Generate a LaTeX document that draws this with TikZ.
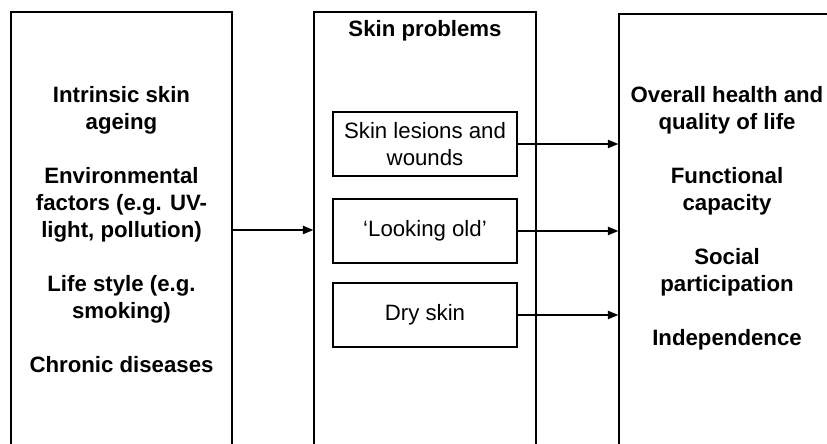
\documentclass[tikz,border=0pt]{standalone}
\usepackage{fontspec}
\setmainfont{Liberation Sans}
\usetikzlibrary{arrows.meta}

\begin{document}
\begin{tikzpicture}[x=0.025cm,y=-0.025cm,
  frame/.style={draw,line width=0.95pt,inner sep=0pt},
  pbox/.style={draw,line width=1.1pt,inner sep=0pt,minimum width=4.6cm,minimum height=1.6cm,
    align=center,font=\fontsize{15.8}{18.9}\selectfont},
  txt/.style={align=center,font=\fontsize{15.8}{19.2}\selectfont\bfseries},
  arr/.style={line width=1pt,-{Triangle[length=7.5pt,width=6pt]}}]
\useasboundingbox (0,0) rectangle (827,444);
\clip (0,0) rectangle (827,444);

\node[frame,minimum width=5.525cm,minimum height=10.9cm] (left) at (121.5,230) {};
\node[frame,minimum width=5.55cm,minimum height=10.9cm] (mid) at (425,230) {};
\node[frame,minimum width=5.5cm,minimum height=11.15cm] (right) at (729,237) {};

\node[txt] (causes) at (121.5,230) {Intrinsic skin\\ageing\\[19.2pt]
  Environmental\\factors (e.g. UV-\\light, pollution)\\[19.2pt]
  Life style (e.g.\\smoking)\\[19.2pt]
  Chronic diseases};

\node[txt] (head) at (425,31) {Skin problems};
\node[pbox] (lesion) at (425,144) {Skin lesions and\\wounds};
\node[pbox] (old) at (425,231) {‘Looking old’};
\node[pbox] (dry) at (425,315) {Dry skin};

\node[txt] (outcome) at (727,218.5) {Overall health and\\quality of life\\[19.2pt]
  Functional\\capacity\\[19.2pt]
  Social\\participation\\[19.2pt]
  Independence};

\draw[arr] (left) -- (mid);
\draw[arr] (lesion) -- (lesion -| right.west);
\draw[arr] (old) -- (old -| right.west);
\draw[arr] (dry) -- (dry -| right.west);
\end{tikzpicture}
\end{document}
